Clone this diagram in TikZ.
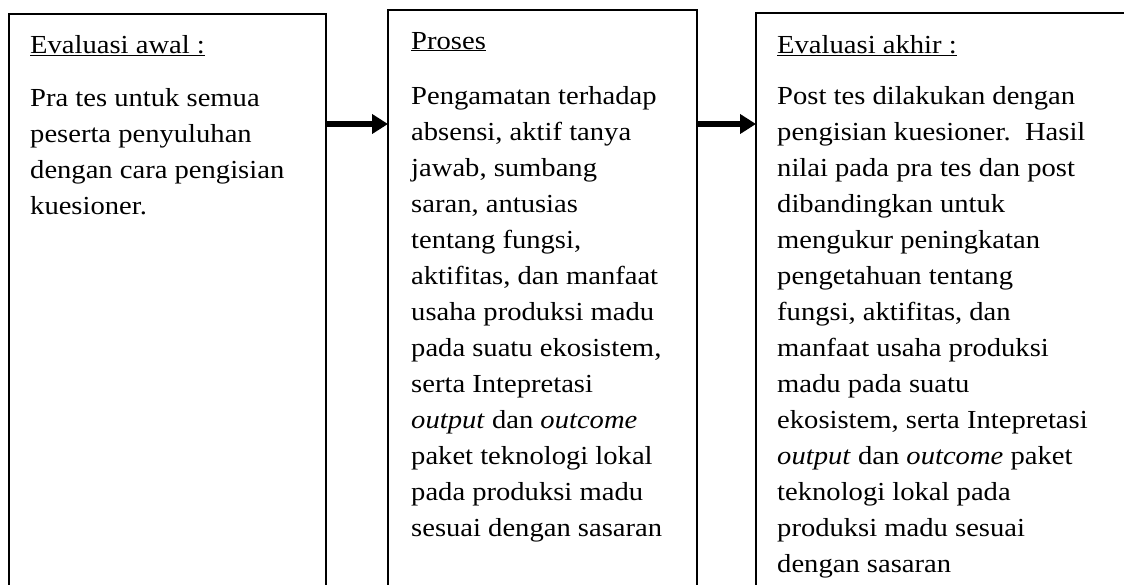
\documentclass[tikz,border=0pt]{standalone}
\usepackage{fontspec}
\setmainfont{Liberation Serif}[FakeStretch=1.1]
\usetikzlibrary{arrows.meta}
\begin{document}
\begin{tikzpicture}[x=1pt,y=-1pt,
  panel/.style={draw=black, line width=2.6pt, rectangle, anchor=north west, inner sep=0pt, outer sep=0pt, minimum height=700pt},
  txt/.style={anchor=base west, align=left, inner sep=0pt, font=\fontsize{26}{36}\selectfont},
  flow/.style={line width=6pt, -{Triangle[length=16pt,width=19pt]}}]
\useasboundingbox (0,0) rectangle (1124,584);
\clip (0,0) rectangle (1124,584);
\node[panel, minimum width=317pt] (b1) at (9,14) {};
\node[panel, minimum width=309pt] (b2) at (388,10) {};
\node[panel, minimum width=500pt] (b3) at (756,13) {};
\coordinate (lvl) at (0,124);
\draw[flow] (b1.east |- lvl) -- (b2.west |- lvl);
\draw[flow] (b2.east |- lvl) -- (b3.west |- lvl);
\node[txt] (t1) at (30,53) {\underline{Evaluasi awal :}};
% base anchor = baseline of last line; first line at y=106
\node[txt] (p1) at (30,214) {Pra tes untuk semua\\peserta penyuluhan\\dengan cara pengisian\\kuesioner.};
\node[txt] (t2) at (411,49) {\underline{Proses}};
% first line at y=104
\node[txt] (p2) at (411,536) {Pengamatan terhadap\\absensi, aktif tanya\\jawab, sumbang\\saran, antusias\\tentang fungsi,\\aktifitas, dan manfaat\\usaha produksi madu\\pada suatu ekosistem,\\serta Intepretasi\\\textit{output} dan \textit{outcome}\\paket teknologi lokal\\pada produksi madu\\sesuai dengan sasaran};
\node[txt] (t3) at (777,53) {\underline{Evaluasi akhir :}};
% first line at y=104
\node[txt] (p3) at (777,572) {Post tes dilakukan dengan\\pengisian kuesioner.~\ Hasil\\nilai pada pra tes dan post\\dibandingkan untuk\\mengukur peningkatan\\pengetahuan tentang\\fungsi, aktifitas, dan\\manfaat usaha produksi\\madu pada suatu\\ekosistem, serta Intepretasi\\\textit{output} dan \textit{outcome} paket\\teknologi lokal pada\\produksi madu sesuai\\dengan sasaran};
\end{tikzpicture}
\end{document}
